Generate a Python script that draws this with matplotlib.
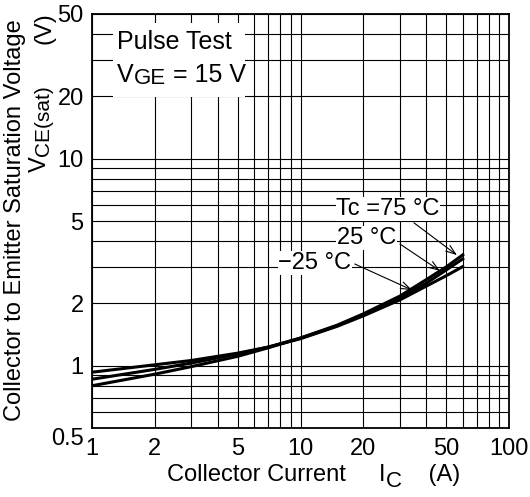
import numpy as np
import matplotlib
matplotlib.use("Agg")
import matplotlib.pyplot as plt
from matplotlib.patches import Rectangle

plt.rcParams["font.family"] = ["Liberation Sans", "DejaVu Sans"]

# collector current (A)
ic = [1, 2, 3, 5, 7, 10, 15, 20, 30, 40, 50, 60]
# VCE(sat) (V) per case temperature
v_m25 = [0.93, 1.01, 1.06, 1.15, 1.23, 1.35, 1.55, 1.74, 2.08, 2.42, 2.72, 3.01]
v_25 = [0.86, 0.96, 1.03, 1.14, 1.23, 1.36, 1.56, 1.76, 2.13, 2.50, 2.90, 3.28]
v_75 = [0.80, 0.91, 0.99, 1.11, 1.22, 1.36, 1.57, 1.78, 2.17, 2.60, 3.00, 3.43]

x_ticks = [1, 2, 5, 10, 20, 50, 100]
y_ticks = [0.5, 1, 2, 5, 10, 20, 50]
x_grid = [1, 2, 3, 4, 5, 6, 7, 8, 9, 10, 20, 30, 40, 50, 60, 70, 80, 90, 100]
y_grid = [0.5, 0.6, 0.7, 0.8, 0.9, 1, 2, 3, 4, 5, 6, 7, 8, 9, 10, 20, 30, 40, 50]

FS = 17
SUB = 15

fig = plt.figure(figsize=(5.3, 4.97), dpi=100)
ax = fig.add_axes([92 / 530, 1 - 428 / 497, 417 / 530, 414 / 497])
ax.set_xscale("log")
ax.set_yscale("log")
ax.set_xlim(1, 100)
ax.set_ylim(0.5, 50)

ax.set_xticks(x_grid, minor=True)
ax.set_yticks(y_grid, minor=True)
ax.set_xticks(x_ticks)
ax.set_xticklabels([f"{t:g}" for t in x_ticks])
ax.set_yticks(y_ticks)
ax.set_yticklabels([f"{t:g}" for t in y_ticks])
ax.xaxis.set_minor_formatter(plt.NullFormatter())
ax.yaxis.set_minor_formatter(plt.NullFormatter())
ax.tick_params(which="both", length=0, labelsize=FS)
ax.tick_params(axis="x", pad=7)
ax.tick_params(axis="y", pad=6)
ax.get_yticklabels()[0].set_va("top")   # "0.5" sits below the corner
ax.grid(which="both", color="black", lw=0.8)
ax.set_axisbelow(True)
for s in ax.spines.values():
    s.set_linewidth(1.3)

for v in (v_m25, v_25, v_75):
    ax.plot(ic, v, color="black", lw=2.2, zorder=3)

# conditions box
ax.add_patch(Rectangle((0.05, 0.80), 0.318, 0.178, transform=ax.transAxes,
                       facecolor="white", edgecolor="none", zorder=2))
ax.text(0.06, 0.932, "Pulse Test", transform=ax.transAxes, fontsize=FS + 1,
        va="center", ha="left", zorder=4)
tv = ax.text(0.06, 0.853, "V", transform=ax.transAxes, fontsize=FS + 1,
             va="center", ha="left", zorder=4)
tge = ax.annotate("GE", xy=(1, 0), xycoords=tv, xytext=(0, -1.5),
                  textcoords="offset points", fontsize=SUB + 1, va="bottom", ha="left", zorder=4)
ax.annotate(" = 15 V", xy=(1, 0), xycoords=(tge, tv), fontsize=FS + 1,
            va="bottom", ha="left", zorder=4)

# temperature labels with arrows
box = dict(facecolor="white", edgecolor="none", pad=0.5)
ax.text(26.3, 5.71, "Tc =75 °C", fontsize=FS, ha="center", va="center", bbox=box, zorder=4)
ax.text(20.8, 4.14, "25 °C", fontsize=FS, ha="center", va="center", bbox=box, zorder=4)
ax.text(11.7, 3.13, "\u221225 °C", fontsize=FS, ha="center", va="center", bbox=box, zorder=4)
arrow = dict(arrowstyle="->,head_length=0.7,head_width=0.25", color="black", lw=0.8,
             shrinkA=0, shrinkB=0)
ax.annotate("", xy=(56.3, 3.42), xytext=(35.0, 4.9), arrowprops=arrow, zorder=5)
ax.annotate("", xy=(46.7, 2.87), xytext=(30.0, 3.87), arrowprops=arrow, zorder=5)
ax.annotate("", xy=(34.3, 2.32), xytext=(18.2, 3.10), arrowprops=arrow, zorder=5)

# y axis title (two columns)
fig.text(0.029, 1 - 220 / 497, "Collector to Emitter Saturation Voltage",
         rotation=90, ha="center", va="center", fontsize=FS)
tvy = fig.text(0.0745, 1 - 172 / 497, "V", rotation=90, ha="center", va="bottom", fontsize=FS)
ax.annotate("CE(sat)", xy=(1, 1), xycoords=tvy, xytext=(2, 0), textcoords="offset points",
            rotation=90, ha="right", va="bottom", fontsize=SUB, annotation_clip=False)
fig.text(0.084, 1 - 28 / 497, "(V)", rotation=90, ha="center", va="center", fontsize=FS)

# x axis title
txl = fig.text(167 / 530, 1 - 475 / 497, "Collector Current     I", ha="left", va="center",
               fontsize=FS)
tc = ax.annotate("C", xy=(1, 0), xycoords=txl, xytext=(0, -4), textcoords="offset points",
                 fontsize=FS - 1, ha="left", va="bottom", annotation_clip=False)
ax.annotate("    (A)", xy=(1, 0), xycoords=(tc, txl), fontsize=FS, ha="left", va="bottom",
            annotation_clip=False)

fig.savefig("out.png", dpi=100)
